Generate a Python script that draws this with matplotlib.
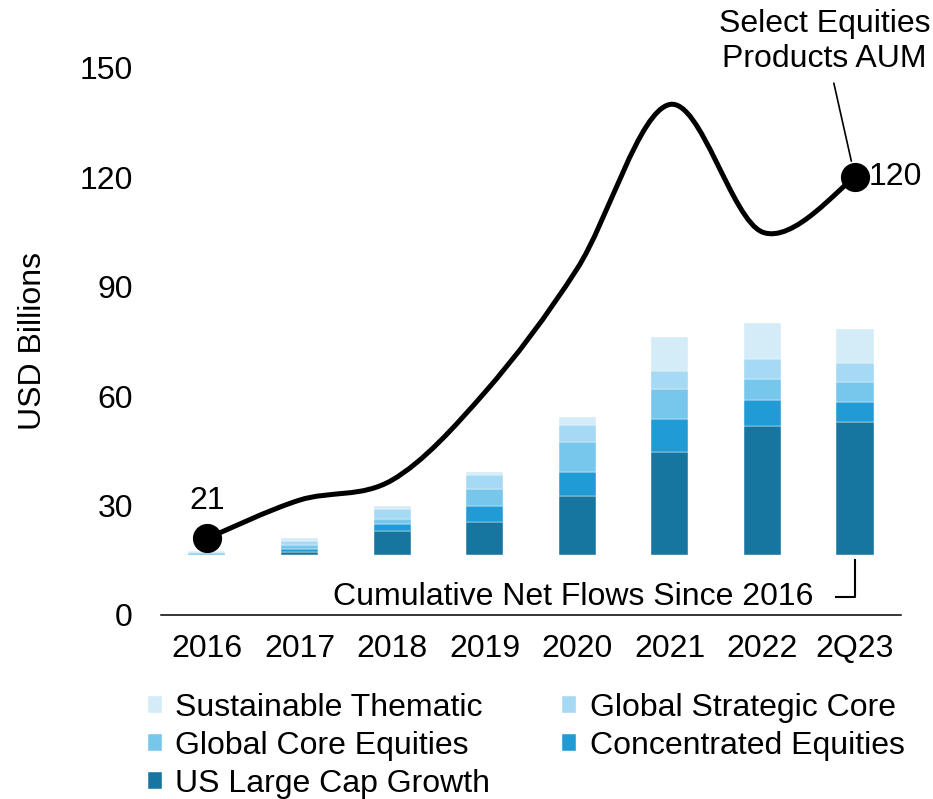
import numpy as np
import matplotlib
matplotlib.use('Agg')
import matplotlib.pyplot as plt
from matplotlib.path import Path
from matplotlib.patches import PathPatch

plt.rcParams['font.family'] = ['Liberation Sans', 'DejaVu Sans']

categories = ['2016', '2017', '2018', '2019', '2020', '2021', '2022', '2Q23']
aum = [21, 31.5, 37, 61, 95, 140, 105, 120]

# cumulative net flows by product (stacked, bottom to top)
us_large_cap = [0.0, 0.8, 6.7, 9.2, 16.3, 28.2, 35.5, 36.5]
concentrated = [0.0, 0.9, 1.8, 4.3, 6.4, 9.1, 7.1, 5.5]
global_core = [0.7, 1.1, 1.4, 4.7, 8.4, 8.4, 5.8, 5.5]
global_strategic = [0.3, 1.0, 2.7, 3.8, 4.7, 4.7, 5.4, 5.2]
sustainable = [0.2, 1.0, 0.9, 0.7, 2.1, 9.3, 9.8, 9.2]

series = [
    ('US Large Cap Growth', us_large_cap, '#17769f'),
    ('Concentrated Equities', concentrated, '#219bd6'),
    ('Global Core Equities', global_core, '#77c6eb'),
    ('Global Strategic Core', global_strategic, '#a6d9f3'),
    ('Sustainable Thematic', sustainable, '#d3ecf8'),
]

BAR_BASE = 16.4  # bars float above the zero line
FS = 23

fig = plt.figure(figsize=(9.33, 7.99), dpi=100)
ax = fig.add_axes([0.1722, 0.2303, 0.7938, 0.6846])

x = np.arange(len(categories))
bottom = np.full(len(categories), BAR_BASE)
bars = {}
for name, vals, col in series:
    vals = np.array(vals)
    bars[name] = ax.bar(x, vals, width=0.4, bottom=bottom, color=col,
                        edgecolor='white', linewidth=0.3, label=name, zorder=2)
    bottom = bottom + vals

# smoothed AUM line (excel style bezier through the points)
pts = np.column_stack([x, aum]).astype(float)
verts = [pts[0]]
codes = [Path.MOVETO]
n = len(pts)
for i in range(n - 1):
    p0 = pts[i - 1] if i > 0 else pts[i]
    p1 = pts[i]
    p2 = pts[i + 1]
    p3 = pts[i + 2] if i + 2 < n else pts[i + 1]
    verts += [p1 + (p2 - p0) / 6, p2 - (p3 - p1) / 6, p2]
    codes += [Path.CURVE4] * 3
ax.add_patch(PathPatch(Path(verts, codes), facecolor='none', edgecolor='black',
                       lw=3.6, zorder=3, capstyle='round'))
ax.plot([x[0], x[-1]], [aum[0], aum[-1]], 'o', color='black', ms=20, zorder=4)

ax.annotate(f'{aum[0]:g}', (x[0], aum[0]), xytext=(0, 27), textcoords='offset points',
            ha='center', va='center', fontsize=FS)
ax.annotate(f'{aum[-1]:g}', (x[-1], aum[-1]), xytext=(10, 0), textcoords='offset points',
            ha='left', va='center', fontsize=FS)
ax.annotate('Select Equities\nProducts AUM', (x[-1], aum[-1]), xytext=(-22, 98),
            textcoords='offset points', ha='center', va='center', fontsize=FS,
            linespacing=1.2, annotation_clip=False,
            arrowprops=dict(arrowstyle='-', lw=1.2, color='black', shrinkA=5, shrinkB=12))

# cumulative net flows label with elbow
ax.text(x[-1] - 0.45, 4.9, 'Cumulative Net Flows Since 2016', ha='right', va='center',
        fontsize=FS)
ax.plot([x[-1] - 0.2, x[-1], x[-1]], [4.9, 4.9, BAR_BASE - 1.3], color='black', lw=1.5)

ax.set_xlim(-0.5, len(categories) - 0.5)
ax.set_ylim(0, 150)
ax.set_yticks([0, 30, 60, 90, 120, 150])
ax.set_xticks(x)
ax.set_xticklabels(categories)
ax.tick_params(axis='both', length=0, labelsize=FS)
ax.tick_params(axis='x', pad=14)
ax.tick_params(axis='y', pad=20)
for s in ['top', 'right', 'left']:
    ax.spines[s].set_visible(False)
ax.spines['bottom'].set_linewidth(1.1)
ax.spines['bottom'].set_zorder(5)
ax.set_ylabel('USD Billions', fontsize=FS)
ax.yaxis.set_label_coords(-0.152, 0.50, transform=ax.transAxes)

order = ['Sustainable Thematic', 'Global Core Equities', 'US Large Cap Growth',
         'Global Strategic Core', 'Concentrated Equities']
fig.legend([bars[k] for k in order], order, loc='upper left',
           bbox_to_anchor=(148 / 933, 1 - 693 / 799), ncol=2, frameon=False,
           fontsize=FS, handlelength=0.44, handleheight=0.44, handletextpad=0.42,
           columnspacing=2.25, labelspacing=0.25, borderpad=0, borderaxespad=0)

fig.savefig('out.png', dpi=100)
